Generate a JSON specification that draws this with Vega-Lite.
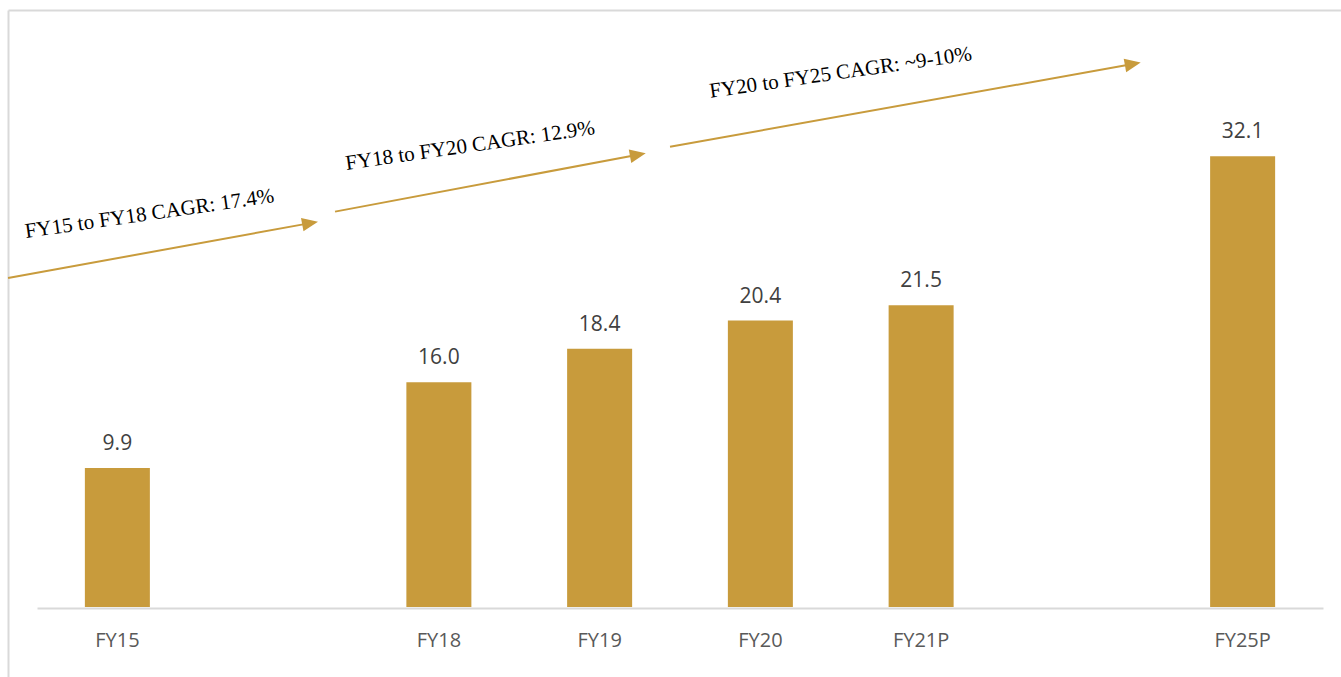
{
  "$schema": "https://vega.github.io/schema/vega-lite/v6.json",
  "width": 1333,
  "height": 667,
  "autosize": {"type": "none"},
  "padding": {"left": 8, "top": 10, "right": 0, "bottom": 0},
  "background": "white",
  "config": {
    "view": {"stroke": null},
    "axisY": {"domainColor": "#D9D9D9", "domainWidth": 2, "labels": false, "ticks": false, "grid": false},
    "axis": {"grid": false}
  },
  "datasets": {
    "bars": [
      {"year": "FY15", "value": 9.9},
      {"year": "FY18", "value": 16.0},
      {"year": "FY19", "value": 18.4},
      {"year": "FY20", "value": 20.4},
      {"year": "FY21P", "value": 21.5},
      {"year": "FY25P", "value": 32.1}
    ],
    "arrows": [
      {"label": "FY15 to FY18 CAGR: 17.4%", "x_start": -0.680, "y_start": 23.43, "x_end": 1.199, "y_end": 27.34, "text_x": 0.206, "text_y": 27.56},
      {"label": "FY18 to FY20 CAGR: 12.9%", "x_start": 1.354, "y_start": 28.16, "x_end": 3.238, "y_end": 32.21, "text_x": 2.200, "text_y": 32.41},
      {"label": "FY20 to FY25 CAGR: ~9-10%", "x_start": 3.438, "y_start": 32.78, "x_end": 6.317, "y_end": 38.67, "text_x": 4.505, "text_y": 37.61}
    ]
  },
  "layer": [
    {
      "data": {"name": "bars"},
      "encoding": {
        "x": {
          "field": "year", "type": "nominal",
          "scale": {"domain": ["FY15", " ", "FY18", "FY19", "FY20", "FY21P", "  ", "FY25P"], "range": [29, 1315], "paddingInner": 0.5956, "paddingOuter": 0.2978},
          "axis": {"orient": "bottom", "offset": -69, "title": null, "domainColor": "#D9D9D9", "domainWidth": 2, "ticks": false, "tickSize": 0, "labelAngle": 0, "labelFont": "Open Sans", "labelFontSize": 20, "labelColor": "#595959", "labelBaseline": "alphabetic", "labelPadding": 38}
        },
        "y": {
          "field": "value", "type": "quantitative",
          "scale": {"domain": [-4.986, 42.52], "nice": false, "zero": false},
          "axis": {"title": null}
        }
      },
      "layer": [
        {"mark": {"type": "bar", "color": "#C89B3C"}},
        {"mark": {"type": "text", "font": "Open Sans", "fontSize": 21, "color": "#404040", "baseline": "alphabetic", "align": "center", "dy": -18}, "encoding": {"text": {"field": "value", "type": "quantitative", "format": ".1f"}}}
      ]
    },
    {
      "data": {"name": "arrows"},
      "layer": [
        {
          "mark": {"type": "rule", "color": "#C89B3C", "strokeWidth": 2},
          "encoding": {
            "x": {"field": "x_start", "type": "quantitative", "scale": {"domain": [-0.6804, 7.612], "nice": false, "zero": false}, "axis": {"orient": "top", "title": null, "labels": false, "ticks": false, "grid": false, "domainColor": "#D9D9D9", "domainWidth": 2}},
            "y": {"field": "y_start", "type": "quantitative", "scale": {"domain": [-4.986, 42.52], "nice": false, "zero": false}, "axis": {"title": null}},
            "x2": {"field": "x_end"},
            "y2": {"field": "y_end"}
          }
        },
        {
          "mark": {"type": "point", "shape": "M-1,-0.85L1,0L-1,0.85Z", "filled": true, "size": 256, "color": "#C89B3C", "opacity": 1, "angle": 349.6},
          "encoding": {
            "x": {"field": "x_end", "type": "quantitative", "scale": {"domain": [-0.6804, 7.612], "nice": false, "zero": false}, "axis": {"orient": "top", "title": null, "labels": false, "ticks": false, "grid": false, "domainColor": "#D9D9D9", "domainWidth": 2}},
            "y": {"field": "y_end", "type": "quantitative", "scale": {"domain": [-4.986, 42.52], "nice": false, "zero": false}, "axis": {"title": null}}
          }
        },
        {
          "mark": {"type": "text", "font": "Liberation Serif", "fontSize": 21, "color": "#000000", "angle": 351.8, "align": "center", "baseline": "alphabetic"},
          "encoding": {
            "x": {"field": "text_x", "type": "quantitative", "scale": {"domain": [-0.6804, 7.612], "nice": false, "zero": false}, "axis": {"orient": "top", "title": null, "labels": false, "ticks": false, "grid": false, "domainColor": "#D9D9D9", "domainWidth": 2}},
            "y": {"field": "text_y", "type": "quantitative", "scale": {"domain": [-4.986, 42.52], "nice": false, "zero": false}, "axis": {"title": null}},
            "text": {"field": "label", "type": "nominal"}
          }
        }
      ]
    }
  ],
  "resolve": {"scale": {"x": "independent"}, "axis": {"x": "independent"}}
}
